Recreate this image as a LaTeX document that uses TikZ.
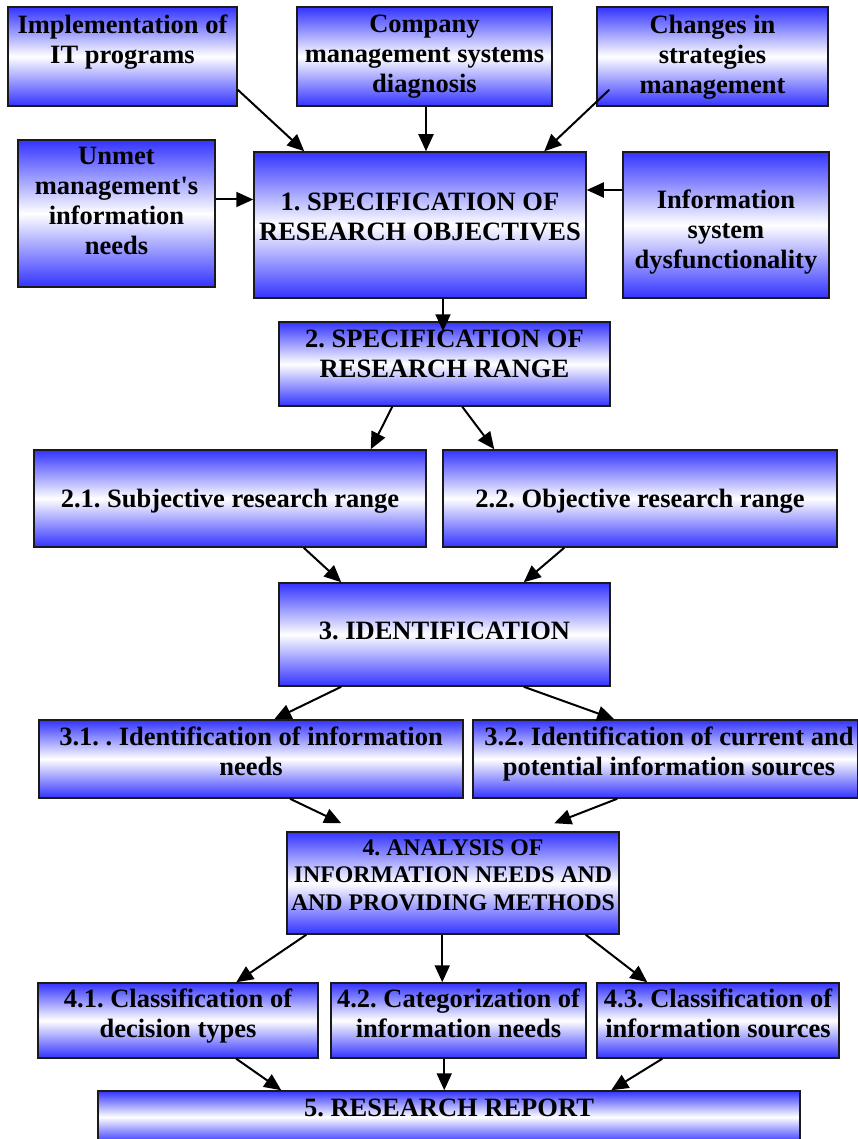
\documentclass[tikz,border=0pt]{standalone}
\usepackage{fontspec}
\setmainfont{Liberation Serif}
\frenchspacing
\definecolor{boxblue}{HTML}{3333FF}
\definecolor{boxline}{HTML}{1a1a1a}
\usetikzlibrary{arrows.meta}

\begin{document}
\begin{tikzpicture}[x=1pt, y=-1pt,
    box/.style={draw=boxline, line width=1.5pt, top color=boxblue,
      bottom color=boxblue, middle color=white, inner sep=0pt},
    lbl/.style={font=\bfseries\fontsize{26.5}{30}\selectfont,
      align=center, inner sep=0pt},
    arr/.style={-{Triangle[length=17pt,width=15pt]}, line width=2pt}]
    \useasboundingbox (0,0) rectangle (857,1139);

    % inputs
    \node [box, minimum width=229pt, minimum height=99pt] (impl) at (122.5,56.5) {};
    \node [box, minimum width=255pt, minimum height=99pt] (diag) at (424.5,56.5) {};
    \node [box, minimum width=231pt, minimum height=99pt] (chg) at (712.5,56.5) {};
    \node [box, minimum width=197pt, minimum height=147pt] (unmet) at (116.5,213.5) {};
    \node [box, minimum width=206pt, minimum height=146pt] (dysf) at (726,225) {};

    % steps
    \node [box, minimum width=332pt, minimum height=146pt] (s1) at (420,225) {};
    \node [box, minimum width=331pt, minimum height=84pt] (s2) at (444.5,364) {};
    \node [box, minimum width=392pt, minimum height=97pt] (s21) at (230,498.5) {};
    \node [box, minimum width=394pt, minimum height=97pt] (s22) at (640,498.5) {};
    \node [box, minimum width=331pt, minimum height=103pt] (s3) at (444.5,634.5) {};
    \node [box, minimum width=424pt, minimum height=78pt] (s31) at (251,759) {};
    \node [box, minimum width=385pt, minimum height=78pt] (s32) at (665.5,759) {};
    \node [box, minimum width=332pt, minimum height=102pt] (s4) at (453,883) {};
    \node [box, minimum width=280pt, minimum height=75pt] (s41) at (178,1020.5) {};
    \node [box, minimum width=255pt, minimum height=75pt] (s42) at (458.5,1020.5) {};
    \node [box, minimum width=242pt, minimum height=75pt] (s43) at (718,1020.5) {};
    \node [box, minimum width=702pt, minimum height=52pt] (s5) at (449,1117) {};

    % texts
    \node [lbl] (impl-t) at (122.5,42) {Implementation of\\IT programs};
    \node [lbl] (diag-t) at (424.5,57) {Company\\management systems\\diagnosis};
    \node [lbl] (chg-t) at (712.5,57) {Changes in\\strategies\\management};
    \node [lbl] (unmet-t) at (116.5,201) {Unmet\\management\textquotesingle s\\information\\needs};
    \node [lbl] (dysf-t) at (726,232) {Information\\system\\dysfunctionality};
    \node [lbl] (s1-t) at (420,217) {1. SPECIFICATION OF\\RESEARCH OBJECTIVES};
    \node [lbl] (s2-t) at (444.5,354) {2. SPECIFICATION OF\\RESEARCH RANGE};
    \node [lbl] (s21-t) at (230,501) {2.1. Subjective research range};
    \node [lbl] (s22-t) at (640,501) {2.2. Objective research range};
    \node [lbl] (s3-t) at (444.5,631) {3. IDENTIFICATION};
    \node [lbl] (s31-t) at (251,751) {3.1. . Identification of information\\needs};
    \node [lbl] (s32-t) at (669,754) {3.2. Identification of current and\\potential information sources};
    \node [lbl, font=\bfseries\fontsize{23.8}{27.5}\selectfont] (s4-t) at (453,875)
      {4. ANALYSIS OF\\INFORMATION NEEDS AND\\AND PROVIDING METHODS};
    \node [lbl] (s41-t) at (178,1016) {4.1. Classification of\\decision types};
    \node [lbl] (s42-t) at (458.5,1013) {4.2. Categorization of\\information needs};
    \node [lbl] (s43-t) at (718,1013) {4.3. Classification of\\information sources};
    \node [lbl] (s5-t) at (449,1108) {5. RESEARCH REPORT};

    % arrows into step 1
    \draw [arr] ([yshift=17pt]impl.south east) -- ([xshift=51pt]s1.north west);
    \draw [arr] ([xshift=1.5pt]diag.south) -- ([xshift=6pt]s1.north);
    \draw [arr] ([xshift=13pt,yshift=17pt]chg.south west) -- ([xshift=291pt]s1.north west);
    \draw [arr] ([yshift=14pt]unmet.east) -- ([yshift=14pt]unmet.east -| s1.west);
    \draw [arr] ([yshift=35pt]dysf.west) -- ([yshift=35pt]dysf.west -| s1.east);

    % main flow
    \draw [arr] ([xshift=23pt]s1.south) -- ([xshift=-1.5pt,yshift=-10pt]s2.north);
    \draw [arr] ([xshift=114pt]s2.south west) -- ([xshift=-56pt]s21.north east);
    \draw [arr] ([xshift=184pt]s2.south west) -- ([xshift=52pt]s22.north west);
    \draw [arr] ([xshift=-123pt]s21.south east) -- ([xshift=63pt]s3.north west);
    \draw [arr] ([xshift=122pt]s22.south west) -- ([xshift=-87pt]s3.north east);
    \draw [arr] ([xshift=63pt]s3.south west) -- ([xshift=236pt]s31.north west);
    \draw [arr] ([xshift=-87pt]s3.south east) -- ([xshift=142pt]s32.north west);
    \draw [arr] ([xshift=39pt]s31.south) -- ([xshift=55pt,yshift=8pt]s4.north west);
    \draw [arr] ([xshift=145pt]s32.south west) -- ([xshift=268pt,yshift=8pt]s4.north west);
    \draw [arr] ([xshift=20pt]s4.south west) -- ([xshift=199pt]s41.north west);
    \draw [arr] ([xshift=156pt]s4.south west) -- ([xshift=156pt]s4.south west |- s42.north);
    \draw [arr] ([xshift=-34pt]s4.south east) -- ([xshift=51pt]s43.north west);
    \draw [arr] ([xshift=199pt]s41.south west) -- ([xshift=184pt]s5.north west);
    \draw [arr] ([xshift=114pt]s42.south west) -- ([xshift=114pt]s42.south west |- s5.north);
    \draw [arr] ([xshift=66pt]s43.south west) -- ([xshift=514pt]s5.north west);
\end{tikzpicture}
\end{document}
